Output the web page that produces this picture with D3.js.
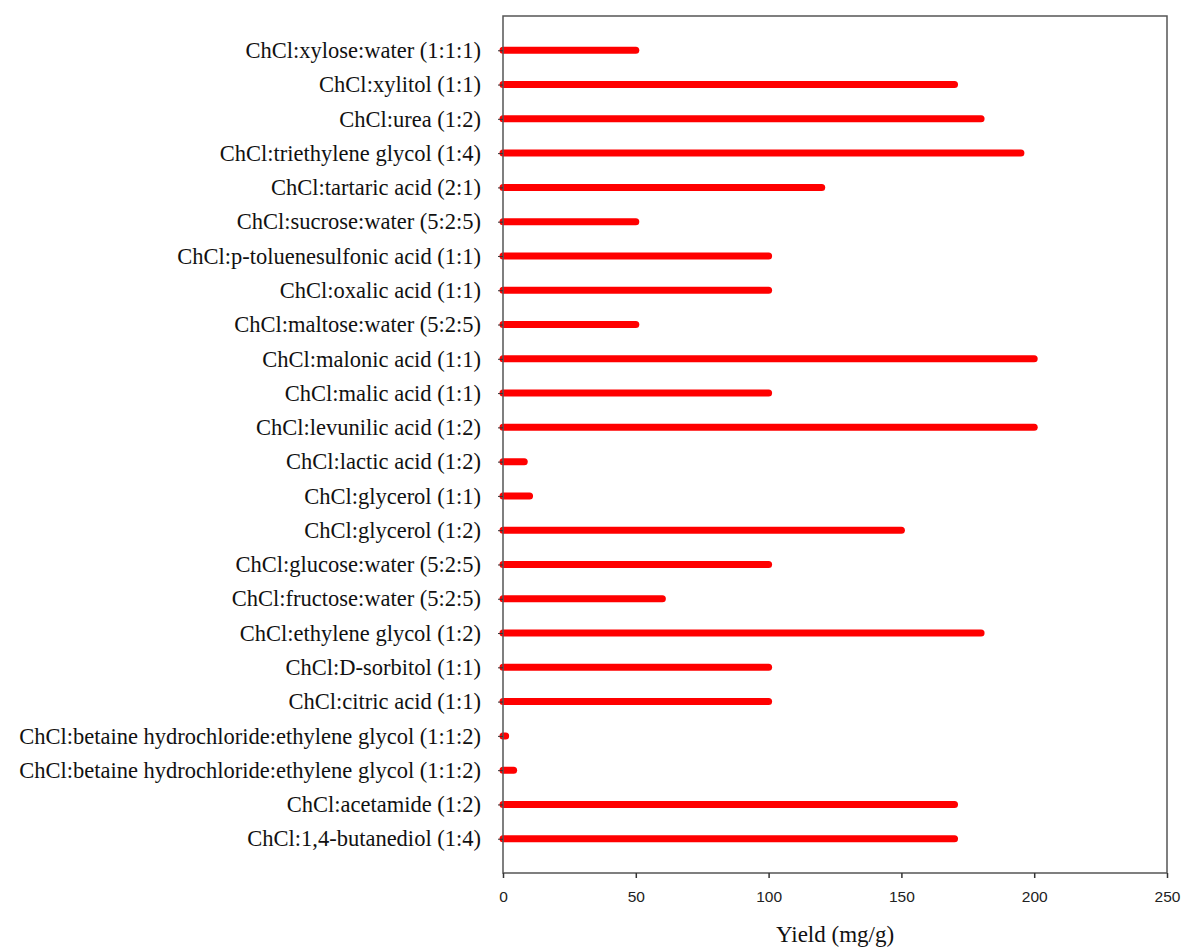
<!DOCTYPE html>
<html>
<head>
<meta charset="utf-8">
<script src="https://cdn.jsdelivr.net/npm/d3@7"></script>
<style>
  body { margin: 0; background: #fff; }
</style>
</head>
<body>
<div id="chart"></div>
<script>
// solvents, listed top to bottom
const solvents = [
  "ChCl:xylose:water (1:1:1)",
  "ChCl:xylitol (1:1)",
  "ChCl:urea (1:2)",
  "ChCl:triethylene glycol (1:4)",
  "ChCl:tartaric acid (2:1)",
  "ChCl:sucrose:water (5:2:5)",
  "ChCl:p-toluenesulfonic acid (1:1)",
  "ChCl:oxalic acid (1:1)",
  "ChCl:maltose:water (5:2:5)",
  "ChCl:malonic acid (1:1)",
  "ChCl:malic acid (1:1)",
  "ChCl:levunilic acid (1:2)",
  "ChCl:lactic acid (1:2)",
  "ChCl:glycerol (1:1)",
  "ChCl:glycerol (1:2)",
  "ChCl:glucose:water (5:2:5)",
  "ChCl:fructose:water (5:2:5)",
  "ChCl:ethylene glycol (1:2)",
  "ChCl:D-sorbitol (1:1)",
  "ChCl:citric acid (1:1)",
  "ChCl:betaine hydrochloride:ethylene glycol (1:1:2)",
  "ChCl:betaine hydrochloride:ethylene glycol (1:1:2)",
  "ChCl:acetamide (1:2)",
  "ChCl:1,4-butanediol (1:4)"
];
const yieldValues = [50, 170, 180, 195, 120, 50, 100, 100, 50, 200, 100, 200,
                     8, 10, 150, 100, 60, 180, 100, 100, 1, 4, 170, 170];
const xTicks = [0, 50, 100, 150, 200, 250];

const width = 1181;
const height = 947;
const margin = { top: 16, right: 14, bottom: 74, left: 503 };

const svg = d3.select("#chart")
  .append("svg")
  .attr("width", width)
  .attr("height", height);

const x = d3.scaleLinear()
  .domain([0, 250])
  .range([margin.left, width - margin.right]);

// use index keys since two labels are identical
const y = d3.scalePoint()
  .domain(d3.range(solvents.length))
  .range([margin.top, height - margin.bottom])
  .padding(1);

// bars (thick rounded lines)
svg.append("g")
  .selectAll("line")
  .data(yieldValues)
  .enter().append("line")
  .attr("x1", x(0))
  .attr("x2", d => x(d))
  .attr("y1", (d, i) => y(i))
  .attr("y2", (d, i) => y(i))
  .attr("stroke", "#ff0000")
  .attr("stroke-width", 7)
  .attr("stroke-linecap", "round");

// frame
svg.append("rect")
  .attr("x", margin.left)
  .attr("y", margin.top)
  .attr("width", width - margin.right - margin.left)
  .attr("height", height - margin.bottom - margin.top)
  .attr("fill", "none")
  .attr("stroke", "#555")
  .attr("stroke-width", 1.5);

// y axis
const yAxis = d3.axisLeft(y)
  .tickSize(5)
  .tickPadding(17)
  .tickFormat(i => solvents[i]);

const gy = svg.append("g")
  .attr("transform", `translate(${margin.left},0)`)
  .call(yAxis);
gy.select(".domain").remove();
gy.selectAll(".tick line").attr("stroke", "#333");
gy.selectAll(".tick text")
  .attr("fill", "#111")
  .style("font-family", "'Liberation Serif', 'Times New Roman', serif")
  .style("font-size", "22.5px");

// x axis
const xAxis = d3.axisBottom(x)
  .tickValues(xTicks)
  .tickSize(5)
  .tickPadding(13);

const gx = svg.append("g")
  .attr("transform", `translate(0,${height - margin.bottom})`)
  .call(xAxis);
gx.select(".domain").remove();
gx.selectAll(".tick line").attr("stroke", "#333").attr("stroke-width", 1.5);
gx.selectAll(".tick text")
  .attr("fill", "#222")
  .style("font-family", "'Liberation Sans', Arial, sans-serif")
  .style("font-size", "15.5px");

// x axis title
svg.append("text")
  .attr("x", (margin.left + width - margin.right) / 2)
  .attr("y", 942)
  .attr("text-anchor", "middle")
  .attr("fill", "#111")
  .style("font-family", "'Liberation Serif', 'Times New Roman', serif")
  .style("font-size", "23px")
  .text("Yield (mg/g)");
</script>
</body>
</html>
